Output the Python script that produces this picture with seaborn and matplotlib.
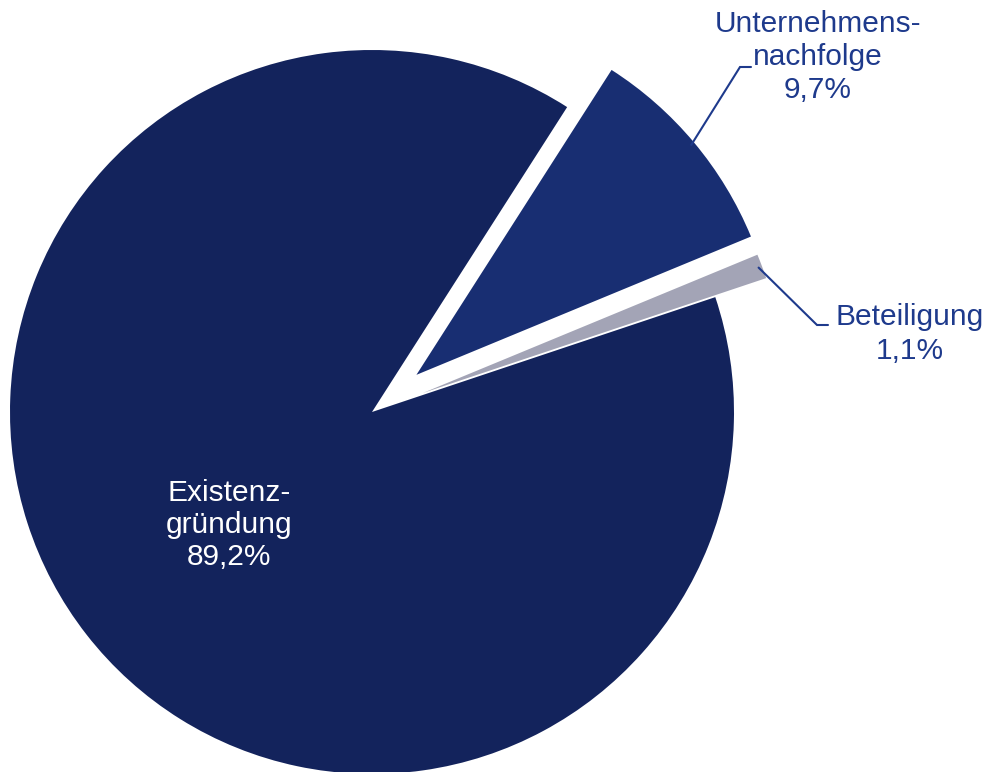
import numpy as np
import matplotlib
matplotlib.use("Agg")
import matplotlib.pyplot as plt
import seaborn as sns

# Shares of the funded projects by type
categories = ["Beteiligung", "Unternehmensnachfolge", "Existenzgründung"]
shares = [1.1, 9.7, 89.2]
label_texts = ["Beteiligung\n1,1%", "Unternehmens-\nnachfolge\n9,7%", "Existenz-\ngründung\n89,2%"]

colors = ["#A3A4B6", "#182E72", "#13235C"]
text_blue = "#1E3A8C"

sns.set_theme(style="white")
plt.rcParams["font.family"] = ["Liberation Sans", "DejaVu Sans"]

W, H = 995, 772
fig = plt.figure(figsize=(W / 100, H / 100), dpi=100)
ax = fig.add_axes([0, 0, 1, 1])

# pixel scale: radius 1 == 362 px, pie centre at (372, 412) px from top-left
R = 362.0
cx, cy = 372.0, 412.0

wedges, _ = ax.pie(
    shares,
    colors=colors,
    startangle=18.5,
    counterclock=True,
    explode=[0.15, 0.16, 0.0],
    radius=1.0,
    wedgeprops=dict(linewidth=0),
)

ax.set_xlim(-cx / R, (W - cx) / R)
ax.set_ylim(-(H - cy) / R, cy / R)
ax.set_aspect("auto")
ax.axis("off")


def px(x, y):
    return (x - cx) / R, (cy - y) / R


def wedge_anchor(w, frac=0.99):
    mid = np.deg2rad((w.theta1 + w.theta2) / 2)
    c = w.center
    return c[0] + frac * w.r * np.cos(mid), c[1] + frac * w.r * np.sin(mid)


# leader lines
for w, elbow, end in [
    (wedges[1], px(740, 67), px(751, 67)),
    (wedges[0], px(817, 325), px(828, 325)),
]:
    sx, sy = wedge_anchor(w)
    ax.plot([sx, elbow[0], end[0]], [sy, elbow[1], end[1]],
            color=text_blue, lw=1.5, solid_joinstyle="miter")

fs = 21.5
tx, ty = px(818, 57)
ax.text(tx, ty, label_texts[1], ha="center", va="center", fontsize=fs,
        color=text_blue, linespacing=1.22)
tx, ty = px(910, 334)
ax.text(tx, ty, label_texts[0], ha="center", va="center", fontsize=fs,
        color=text_blue, linespacing=1.3)
tx, ty = px(229, 525)
ax.text(tx, ty, label_texts[2], ha="center", va="center", fontsize=fs,
        color="white", linespacing=1.16)

fig.savefig("out.png", dpi=100, facecolor="white")
